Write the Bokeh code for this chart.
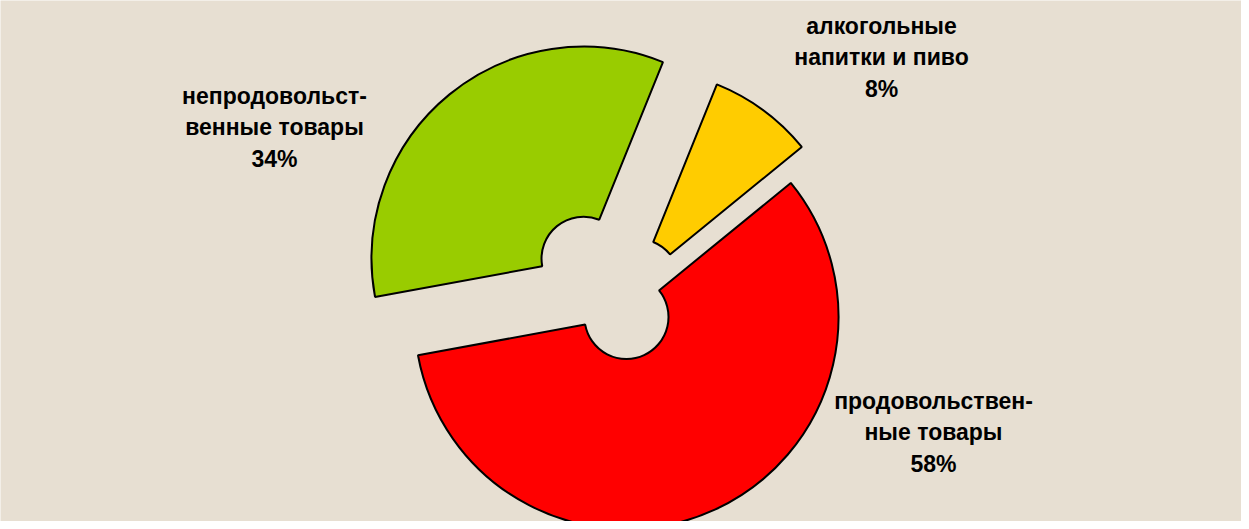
import math
from bokeh.plotting import figure
from bokeh.models import Range1d, ColumnDataSource
from bokeh.core.properties import value
from bokeh.embed import file_html
from bokeh.resources import INLINE

# ---- data ----
categories = ["алкогольные\nнапитки и пиво", "продовольствен-\nные товары", "непродовольст-\nвенные товары"]
shares = [8, 58, 34]

# ---- style ----
colors = ["#FFCC00", "#FF0000", "#99CC00"]
explode = [28.6, 14.3, 58.5]          # px offset of each slice along its bisector
label_x = [881, 933, 274]
label_y = [464, 89, 394]
start_deg = 68.0                      # first slice starts here, slices go clockwise
cx, cy = 620, 217.5
r_out, r_in = 212, 42
W, H = 1241, 521
bg = "#E7DFD2"

total = float(sum(shares))
starts, ends, xs, ys = [], [], [], []
cum = 0.0
for s, e in zip(shares, explode):
    a_hi = math.radians(start_deg - cum / total * 360.0)
    cum += s
    a_lo = math.radians(start_deg - cum / total * 360.0)
    mid = (a_hi + a_lo) / 2.0
    starts.append(a_lo)
    ends.append(a_hi)
    xs.append(cx + e * math.cos(mid))
    ys.append(cy + e * math.sin(mid))

src = ColumnDataSource(dict(x=xs, y=ys, start=starts, end=ends, color=colors))

p = figure(width=W, height=H, x_range=Range1d(0, W), y_range=Range1d(0, H),
           output_backend="svg", toolbar_location=None, min_border=0,
           background_fill_color=bg, border_fill_color=bg, outline_line_color=None)
p.axis.visible = False
p.grid.visible = False

p.annular_wedge(x="x", y="y", inner_radius=r_in, outer_radius=r_out,
                start_angle="start", end_angle="end", fill_color="color",
                line_color="black", line_width=2, source=src)

labels = [f"{c}\n{s}%" for c, s in zip(categories, shares)]
lsrc = ColumnDataSource(dict(x=label_x, y=label_y, text=labels))
p.text(x="x", y="y", text="text", source=lsrc, text_align="center",
       text_baseline="middle", text_font=value("Liberation Sans"),
       text_font_style="bold", text_font_size="23px", text_color="black",
       text_line_height=1.21)

open("out.html", "w").write(file_html(p, INLINE))
